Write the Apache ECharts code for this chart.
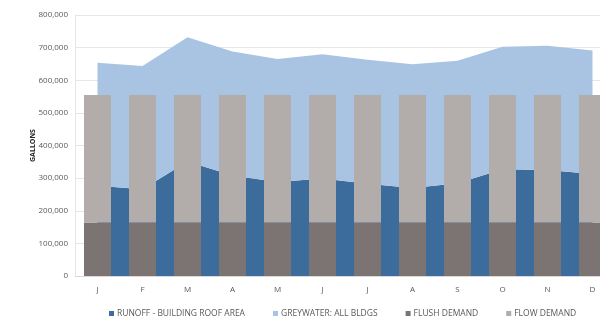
<!DOCTYPE html>
<html>
<head>
<meta charset="utf-8">
<script src="https://cdn.jsdelivr.net/npm/echarts@6/dist/echarts.min.js"></script>
<style>
  html, body { margin: 0; padding: 0; background: #ffffff; }
  #chart { width: 600px; height: 321px; }
</style>
</head>
<body>
<div id="chart"></div>
<script>
// Monthly water supply (stacked areas) against building demand (stacked columns), in gallons
const months = ['J', 'F', 'M', 'A', 'M', 'J', 'J', 'A', 'S', 'O', 'N', 'D'];
const runoffRoof = [277000, 266000, 351000, 308000, 288000, 299000, 283000, 270000, 284000, 327000, 325000, 313000];
const greywaterAll = [377000, 378000, 381000, 380000, 377000, 381000, 380000, 379000, 376000, 376000, 381000, 378000];
const flushDemand = [164000, 164000, 164000, 164000, 164000, 164000, 164000, 164000, 164000, 164000, 164000, 164000];
const flowDemand = [391000, 391000, 391000, 391000, 391000, 391000, 391000, 391000, 391000, 391000, 391000, 391000];
const seriesNames = ['RUNOFF - BUILDING ROOF AREA', 'GREYWATER: ALL BLDGS', 'FLUSH DEMAND', 'FLOW DEMAND'];
const badgeText = '100%';

const colors = {
  runoff: '#3b6c9b',
  greywater: '#a9c4e3',
  flush: '#7b7472',
  flow: '#b2acab'
};

const chart = echarts.init(document.getElementById('chart'), null, { renderer: 'canvas' });

const labelFont = 'Open Sans, Noto Sans, sans-serif';

function areaSeries(name, data, color) {
  return {
    name: name,
    type: 'line',
    stack: 'supply',
    data: data,
    symbol: 'none',
    lineStyle: { width: 0 },
    areaStyle: { color: color, opacity: 1 },
    itemStyle: { color: color },
    z: 1,
    silent: true
  };
}

function barSeries(name, data, color) {
  return {
    name: name,
    type: 'bar',
    stack: 'demand',
    data: data,
    barWidth: '60%',
    itemStyle: { color: color },
    z: 3,
    silent: true
  };
}

chart.setOption({
  animation: false,
  backgroundColor: '#ffffff',
  // the plot runs past the right edge of the canvas, so the December column is cut
  grid: { left: 75, top: 15, width: 540, height: 261, outerBoundsMode: 'none', containLabel: false },
  legend: {
    left: 104,
    top: 304,
    icon: 'rect',
    itemWidth: 5,
    itemHeight: 5,
    itemGap: 28,
    textStyle: { fontFamily: labelFont, fontSize: 8.5, color: '#595959', padding: [0, 0, 0, -2] },
    data: seriesNames
  },
  xAxis: {
    type: 'category',
    data: months,
    boundaryGap: true,
    axisLine: { lineStyle: { color: '#d9d9d9', width: 1 } },
    axisTick: { show: false },
    axisLabel: { fontFamily: labelFont, fontSize: 8, color: '#595959', margin: 10 }
  },
  yAxis: {
    type: 'value',
    min: 0,
    max: 800000,
    interval: 100000,
    name: 'GALLONS',
    nameLocation: 'middle',
    nameRotate: 90,
    nameGap: 39,
    nameMoveOverlap: false,
    nameTextStyle: { fontFamily: labelFont, fontSize: 7, fontWeight: 'bold', color: '#262626' },
    axisLine: { show: true, lineStyle: { color: '#e6e6e6', width: 1 } },
    axisTick: { show: false },
    splitLine: { lineStyle: { color: '#e6e6e6', width: 1 } },
    axisLabel: {
      fontFamily: labelFont,
      fontSize: 8,
      color: '#595959',
      margin: 7,
      formatter: v => v.toLocaleString('en-US')
    }
  },
  series: [
    areaSeries(seriesNames[0], runoffRoof, colors.runoff),
    areaSeries(seriesNames[1], greywaterAll, colors.greywater),
    barSeries(seriesNames[2], flushDemand, colors.flush),
    barSeries(seriesNames[3], flowDemand, colors.flow)
  ],
  graphic: [
    {
      type: 'group',
      left: 320,
      top: 223,
      z: 10,
      children: [
        {
          type: 'circle',
          shape: { cx: 25, cy: 25, r: 24 },
          style: { fill: 'none', stroke: '#ffffff', lineWidth: 2 }
        },
        {
          type: 'text',
          x: 25,
          y: 25,
          style: {
            text: badgeText,
            fill: '#ffffff',
            font: 'bold 10px ' + labelFont,
            align: 'center',
            verticalAlign: 'middle'
          }
        }
      ]
    }
  ]
});
</script>
</body>
</html>
